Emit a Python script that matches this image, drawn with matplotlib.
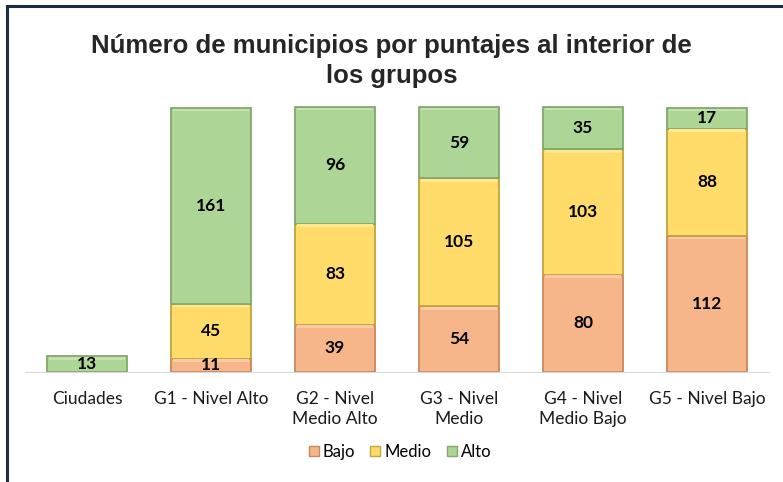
import matplotlib
matplotlib.use("Agg")
import matplotlib.pyplot as plt
from matplotlib.patches import Patch
from matplotlib.lines import Line2D
import numpy as np

categories = ["Ciudades", "G1 - Nivel Alto", "G2 - Nivel\nMedio Alto", "G3 - Nivel\nMedio",
              "G4 - Nivel\nMedio Bajo", "G5 - Nivel Bajo"]
series_names = ["Bajo", "Medio", "Alto"]
bajo = [0, 11, 39, 54, 80, 112]
medio = [0, 45, 83, 105, 103, 88]
alto = [13, 161, 96, 59, 35, 17]

face = {"Bajo": "#F6B68A", "Medio": "#FFDC6A", "Alto": "#ADD595"}
edge = {"Bajo": "#C8895C", "Medio": "#C2A33C", "Alto": "#82A86C"}
hi = {"Bajo": "#FACAA8", "Medio": "#FFE890", "Alto": "#C4E2B1"}

W, H = 783, 482
fig = plt.figure(figsize=(W / 100, H / 100), dpi=100)
fig.patch.set_facecolor("white")

ax_left, ax_right = 25, 769
base_y, top_y = 372, 372 - 250 * 1.217
ax = fig.add_axes([ax_left / W, 1 - base_y / H, (ax_right - ax_left) / W, (base_y - top_y) / H])
ax.set_xlim(-0.5, len(categories) - 0.5)
ax.set_ylim(0, 250)
for s in ["top", "right", "left"]:
    ax.spines[s].set_visible(False)
ax.spines["bottom"].set_color("#D9D9D9")
ax.set_yticks([])
ax.set_xticks(range(len(categories)))
ax.set_xticklabels(categories, fontsize=12.5, family="Lato", color="#1a1a1a", linespacing=1.25)
ax.tick_params(axis="x", length=0, pad=14)

x = np.arange(len(categories))
width = 0.65
bottom = np.zeros(len(categories))
data = {"Bajo": bajo, "Medio": medio, "Alto": alto}
for name in series_names:
    vals = np.array(data[name], dtype=float)
    mask = vals > 0
    ax.bar(x[mask], vals[mask], width, bottom=bottom[mask], color=face[name],
           edgecolor=edge[name], linewidth=1.3, zorder=2)
    hh = np.minimum(vals[mask] * 0.2, 2.2)
    ax.bar(x[mask], hh, width * 0.94, bottom=bottom[mask] + vals[mask] - hh - 0.7,
           color=hi[name], linewidth=0, zorder=3)
    for xi, v, b in zip(x[mask], vals[mask], bottom[mask]):
        ax.text(xi, b + v / 2, f"{int(v)}", ha="center", va="center", fontsize=12.5,
                fontweight="bold", family="Lato", color="black", zorder=4)
    bottom += vals

fig.text(0.5, 1 - 61 / H, "Número de municipios por puntajes al interior de\nlos grupos",
         ha="center", va="center", fontsize=18.5, fontweight="bold", family="Liberation Sans",
         color="#262626", linespacing=1.33)

handles = [Patch(facecolor=face[n], edgecolor=edge[n], linewidth=1) for n in series_names]
leg = fig.legend(handles, series_names, loc="center", bbox_to_anchor=(400 / W, 1 - 452 / H),
                 ncol=3, frameon=False, handlelength=0.6, handleheight=0.6, handletextpad=0.25,
                 columnspacing=0.9, prop={"family": "Lato", "size": 12})

fig.add_artist(Line2D([7 / W, 1], [1 - 6 / H, 1 - 6 / H], color="#1F2A44", linewidth=2.2))
fig.add_artist(Line2D([7 / W, 7 / W], [0, 1 - 6 / H], color="#1F2A44", linewidth=2.2))

fig.savefig("out.png", dpi=100)
